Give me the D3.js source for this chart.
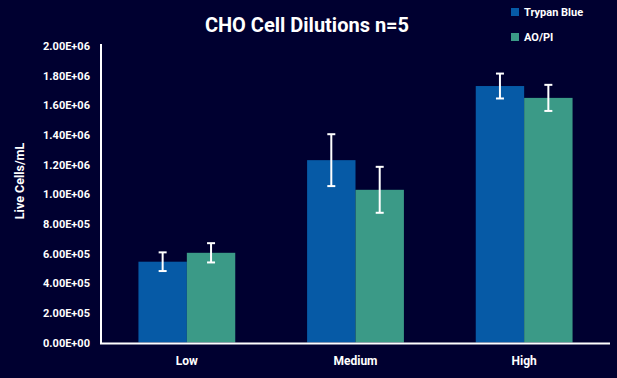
<!DOCTYPE html>
<html>
<head>
<meta charset="utf-8">
<script src="https://cdn.jsdelivr.net/npm/d3@7"></script>
<style>
  html, body { margin: 0; padding: 0; background: #000030; }
  svg { display: block; font-family: Roboto, "Noto Sans", sans-serif; }
</style>
</head>
<body>
<svg id="chart" width="617" height="378"></svg>
<script>
const categories = ["Low", "Medium", "High"];
const seriesNames = ["Trypan Blue", "AO/PI"];
const trypanBlue = [545000, 1230000, 1730000];
const aoPi = [605000, 1030000, 1650000];
const trypanBlueErr = [63000, 175000, 84000];
const aoPiErr = [65000, 155000, 88000];
const yTicks = [0, 200000, 400000, 600000, 800000, 1000000, 1200000, 1400000, 1600000, 1800000, 2000000];
const colors = ["#065aa6", "#3b9a87"];

(function () {
const series = [trypanBlue, aoPi];
const errors = [trypanBlueErr, aoPiErr];

const svg = d3.select("#chart");
const W = 617, H = 378;
const mLeft = 101, mRight = 610, mTop = 46, mBottom = 342.5;

svg.append("rect").attr("width", W).attr("height", H).attr("fill", "#000030");

const x0 = d3.scaleBand().domain(categories).range([mLeft, mRight]).paddingInner(0.426).paddingOuter(0.222);
const x1 = d3.scaleBand().domain(seriesNames).range([0, x0.bandwidth()]);
const y = d3.scaleLinear().domain([0, 2000000]).range([mBottom, mTop]);

function sci(v) {
  if (v === 0) return "0.00E+00";
  const e = Math.floor(Math.log10(v) + 1e-9);
  const m = v / Math.pow(10, e);
  return m.toFixed(2) + "E+" + String(e).padStart(2, "0");
}

const groups = svg.append("g").selectAll("g").data(categories).join("g")
  .attr("transform", d => `translate(${x0(d)},0)`);

seriesNames.forEach((s, si) => {
  groups.append("rect")
    .attr("x", x1(s))
    .attr("width", x1.bandwidth())
    .attr("y", (d, i) => y(series[si][i]))
    .attr("height", (d, i) => y(0) - y(series[si][i]))
    .attr("fill", colors[si]);
});

seriesNames.forEach((s, si) => {
  groups.each(function(d, i) {
    const g = d3.select(this);
    const cx = x1(s) + x1.bandwidth() / 2;
    const v = series[si][i], e = errors[si][i];
    g.append("line").attr("x1", cx).attr("x2", cx).attr("y1", y(v + e)).attr("y2", y(v - e))
      .attr("stroke", "#ffffff").attr("stroke-width", 2);
    [v + e, v - e].forEach(t => {
      g.append("line").attr("x1", cx - 4).attr("x2", cx + 4).attr("y1", y(t)).attr("y2", y(t))
        .attr("stroke", "#ffffff").attr("stroke-width", 2);
    });
  });
});

const yAxis = svg.append("g").attr("transform", `translate(${mLeft},0)`)
  .call(d3.axisLeft(y).tickValues(yTicks).tickFormat(sci).tickSize(0).tickPadding(11));
yAxis.select(".domain").remove();
yAxis.selectAll("text").attr("fill", "#ffffff").attr("font-size", 11).attr("font-weight", 700)
  .attr("font-family", "Roboto, sans-serif");
svg.append("line").attr("x1", mLeft).attr("x2", mLeft).attr("y1", mTop - 2).attr("y2", mBottom + 1)
  .attr("stroke", "#ffffff").attr("stroke-width", 2);

const xAxis = svg.append("g").attr("transform", `translate(0,${mBottom})`)
  .call(d3.axisBottom(x0).tickSize(0).tickPadding(14));
xAxis.select(".domain").remove();
xAxis.selectAll("text").attr("fill", "#ffffff").attr("font-size", 12).attr("font-weight", 700)
  .attr("font-family", "Roboto, sans-serif");
svg.append("line").attr("x1", mLeft - 1).attr("x2", mRight).attr("y1", mBottom + 1).attr("y2", mBottom + 1)
  .attr("stroke", "#ffffff").attr("stroke-width", 2);

svg.append("text").attr("transform", "translate(24,181) rotate(-90)")
  .attr("text-anchor", "middle").attr("fill", "#ffffff").attr("font-size", 12.5).attr("font-weight", 700)
  .text("Live Cells/mL");

svg.append("text").attr("x", 307).attr("y", 32).attr("text-anchor", "middle")
  .attr("fill", "#ffffff").attr("font-size", 20).attr("font-weight", 700)
  .text("CHO Cell Dilutions n=5");

const legend = svg.append("g").selectAll("g").data(seriesNames).join("g")
  .attr("transform", (d, i) => `translate(511,${8 + i * 25})`);
legend.append("rect").attr("width", 8).attr("height", 8).attr("fill", (d, i) => colors[i]);
legend.append("text").attr("x", 13).attr("y", 8).attr("fill", "#ffffff")
  .attr("font-size", 11).attr("font-weight", 700).text(d => d);
})();
</script>
</body>
</html>
